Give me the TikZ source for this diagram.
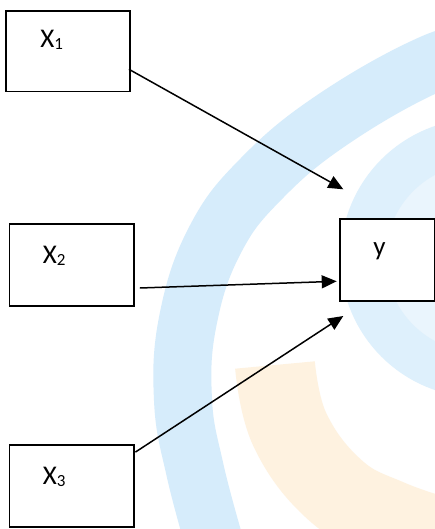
\documentclass[tikz,border=0pt]{standalone}
\usepackage{fontspec}
\setmainfont{Carlito}
\usetikzlibrary{arrows.meta,calc}
\definecolor{wmblue}{RGB}{214,236,251}
\definecolor{wmblueb}{RGB}{222,240,252}
\definecolor{wmbluec}{RGB}{234,245,253}
\definecolor{wmorange}{RGB}{254,242,224}
\newcommand{\mysub}[1]{\raisebox{-2.5pt}{\fontsize{17}{17}\selectfont #1}}
\begin{document}
\begin{tikzpicture}[x=1pt,y=-1pt,
  box/.style={draw=black, fill=white, line width=1.8pt, inner sep=0pt},
  lbl/.style={anchor=base west, inner sep=0pt, font=\fontsize{27}{27}\selectfont},
  conn/.style={line width=1.5pt, -{Triangle[length=15pt,width=13pt]}}]
\useasboundingbox (0,0) rectangle (435,529);
\fill[white] (0,0) rectangle (435,529);
% faint watermark
\begin{scope}
\clip (0,0) rectangle (435,529);
\fill[wmbluec] (480,258) circle[radius=100];
\draw[wmblueb, line width=45pt] (480,258) circle[radius=117];
\draw[wmblue, line width=58pt] plot[smooth, tension=0.7] coordinates {(490,50) (433,63) (335,118) (262,178) (215,240) (188,320) (183,400) (195,470) (215,545)};
\draw[wmorange, line width=80pt] plot[smooth, tension=0.7] coordinates {(275,365) (290,430) (335,490) (390,520) (450,540)};
\end{scope}
% boxes
\node[box, minimum width=124pt, minimum height=80.5pt] (x1) at (68,51.25) {};
\node[box, minimum width=124.5pt, minimum height=82pt] (x2) at (71.75,265) {};
\node[box, minimum width=124.5pt, minimum height=82pt] (x3) at (71.75,486) {};
\node[box, minimum width=95pt, minimum height=82pt] (yb) at (387.5,260) {};
% labels
\node[lbl] (t1) at ($(x1.north west)+(35,37)$) {X\mysub{1}};
\node[lbl] (t2) at ($(x2.north west)+(34,40)$) {X\mysub{2}};
\node[lbl] (t3) at ($(x3.north west)+(34,40)$) {X\mysub{3}};
\node[lbl] (ty) at ($(yb.north west)+(34,37)$) {y};
% connector ends
\coordinate (s1) at ($(x1.east)+(-2,18)$);
\coordinate (e1) at (343.3,189.3);
\coordinate (s2) at ($(x2.east)+(5,23)$);
\coordinate (e2) at (336.7,281.3);
\coordinate (s3) at ($(x3.north east)+(0.5,8)$);
\coordinate (e3) at (343.3,316);
\draw[conn] (s1) -- (e1);
\draw[conn] (s2) -- (e2);
\draw[conn] (s3) -- (e3);
\end{tikzpicture}
\end{document}
